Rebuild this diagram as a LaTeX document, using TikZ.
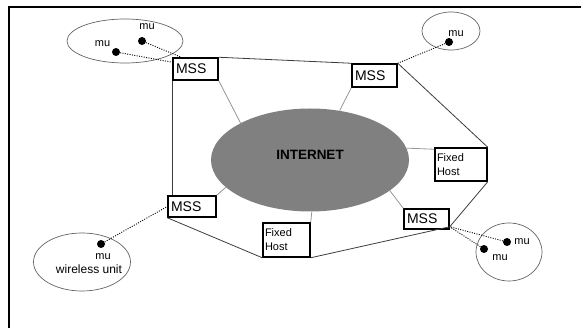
\documentclass[tikz,border=0pt]{standalone}
\usepackage{fontspec}
\setmainfont{Liberation Sans}
\usetikzlibrary{shapes.geometric}
\definecolor{netgray}{RGB}{128,128,128}
\definecolor{spokegray}{RGB}{150,150,150}
\definecolor{ringgray}{RGB}{60,60,60}
\definecolor{cellgray}{RGB}{100,100,100}
\begin{document}
\begin{tikzpicture}[x=1pt,y=-1pt,
  inet/.style={ellipse, fill=netgray, inner sep=0pt, minimum width=198pt, minimum height=103pt,
    font=\bfseries\fontsize{13.5}{14}\selectfont, text height=5pt, text depth=5pt},
  mssbox/.style={draw, fill=white, line width=1.5pt, inner xsep=3pt, inner ysep=0pt,
    text width=39pt, minimum height=21pt, align=left, font=\fontsize{14}{14}\selectfont},
  fhbox/.style={draw, fill=white, line width=1.5pt, inner xsep=2pt, inner ysep=0pt,
    text width=48pt, minimum height=33pt, align=left, font=\fontsize{11}{14}\selectfont},
  cell/.style={ellipse, draw=cellgray, line width=0.7pt, inner sep=0pt},
  dot/.style={circle, fill=black, inner sep=0pt, minimum size=8pt},
  mulab/.style={anchor=base, inner sep=0pt, font=\fontsize{11}{13}\selectfont},
  link/.style={black, line width=0.9pt, dash pattern=on 1pt off 1.4pt},
  spoke/.style={spokegray, line width=0.8pt},
  ring/.style={ringgray, line width=0.8pt}]
\useasboundingbox (0,0) rectangle (581,328);
% frame
\draw[line width=2pt] (9,328) |- (581,7);

% internet
\node[inet] (inet) at (310,160) {INTERNET};

% cells
\node[cell, minimum width=116pt, minimum height=44pt] (cTL) at (125,41) {};
\node[cell, minimum width=58pt, minimum height=38pt] (cTR) at (451,31) {};
\node[cell, minimum width=97pt, minimum height=58pt] (cL) at (82,262) {};
\node[cell, minimum width=66pt, minimum height=58pt] (cBR) at (509,252) {};

% stations
\node[mssbox, minimum height=22pt] (mssTL) at (195.5,69) {MSS};
\node[mssbox, minimum height=23pt] (mssTR) at (374.5,75.5) {MSS};
\node[mssbox, text width=42pt] (mssL) at (192,206.5) {MSS};
\node[mssbox, minimum height=20pt] (mssBR) at (426.5,219) {MSS};
\node[fhbox] (fhR) at (461,164.5) {Fixed\\Host};
\node[fhbox, text width=43pt, minimum height=34pt] (fhB) at (286.5,240) {Fixed\\Host};

% mobile units
\node[dot] (d1) at (142,41) {};
\node[dot] (d2) at (116,52) {};
\node[dot] (d3) at (449,42) {};
\node[dot] (d4) at (101,244) {};
\node[dot] (d5) at (507,242) {};
\node[dot] (d6) at (484,249) {};

\node[mulab] (l1) at (147,30) {mu};
\node[mulab] (l2) at (102.5,46.5) {mu};
\node[mulab] (l3) at (456,36.5) {mu};
\node[mulab] (l4) at (103,260) {mu};
\node[mulab, font=\fontsize{12}{13}\selectfont] (l4b) at (89,274) {wireless unit};
\node[mulab] (l5) at (522,245) {mu};
\node[mulab] (l6) at (500,261) {mu};

% wireless links
\draw[link] (d1) -- ([xshift=9pt]mssTL.north west);
\draw[link] (d2) -- ([yshift=-5pt]mssTL.north west);
\draw[link] (d3) -- (mssTR.north east);
\draw[link] (d4) -- (mssL.west);
\draw[link] (d5) -- ([yshift=3pt]mssBR.south east);
\draw[link] (d6) -- ([yshift=3pt]mssBR.south east);

% spokes to internet
\draw[spoke] (mssTL.south east) -- (inet.152);
\draw[spoke] (mssTR.south west) -- (inet.59);
\draw[spoke] ([yshift=-2pt]fhR.north west) -- (inet.7);
\draw[spoke] (mssBR.north west) -- (inet.-21);
\draw[spoke] (fhB.north east) -- (inet.-88);
\draw[spoke] (mssL.north east) -- (inet.198);

% outer ring
\draw[ring] (mssTL.north east) -- (mssTR.north west);
\draw[ring] (mssTR.north east) -- (fhR.north east);
\draw[ring] (fhR.south east) -- ([yshift=3pt]mssBR.south east);
\draw[ring] ([yshift=3pt]mssBR.south east) -- (fhB.south east);
\draw[ring] (fhB.south west) -- (mssL.south west);
\draw[ring] (mssTL.south west) -- (mssTL.south west |- mssL.north);
\end{tikzpicture}
\end{document}
